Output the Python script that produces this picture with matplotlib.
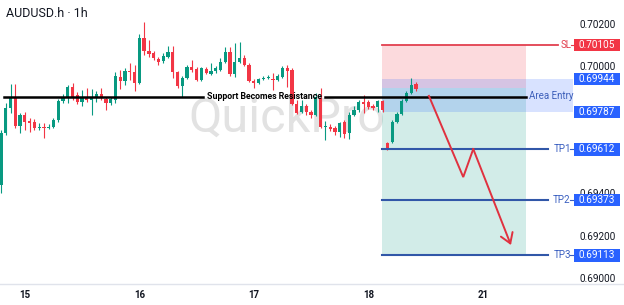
import matplotlib
matplotlib.use("Agg")
import matplotlib.pyplot as plt
from matplotlib.patches import Rectangle

plt.rcParams['font.family'] = ['Roboto', 'DejaVu Sans']

# ---------------- data ----------------
opens = [0.69445, 0.69689, 0.69807, 0.69859, 0.69722, 0.69774, 0.69746, 0.69741, 0.69713, 0.69718,
         0.69713, 0.69718, 0.69751, 0.69840, 0.69859, 0.69906, 0.69868, 0.69835, 0.69859, 0.69845,
         0.69859, 0.69873, 0.69849, 0.69831, 0.69845, 0.69953, 0.69934, 0.69981, 0.69976, 0.69925,
         0.70136, 0.70075, 0.70066, 0.70038, 0.70028, 0.70047, 0.70071, 0.69976, 0.69911, 0.69948,
         0.70000, 0.69991, 0.69939, 0.69991, 0.69967, 0.69981, 0.69986, 0.70024, 0.70071, 0.69967,
         0.70024, 0.70042, 0.70009, 0.69934, 0.69925, 0.69944, 0.69948, 0.69944, 0.69939, 0.69953,
         0.69995, 0.69986, 0.69826, 0.69788, 0.69816, 0.69788, 0.69774, 0.69854, 0.69718, 0.69718,
         0.69713, 0.69694, 0.69741, 0.69689, 0.69774, 0.69798, 0.69835, 0.69835, 0.69816, 0.69812,
         0.69840, 0.69642, 0.69647, 0.69741, 0.69779, 0.69840, 0.69878, 0.69920]
highs = [0.69704, 0.69831, 0.69920, 0.69920, 0.69784, 0.69788, 0.69760, 0.69755, 0.69736, 0.69736,
         0.69731, 0.69760, 0.69849, 0.69873, 0.69915, 0.69925, 0.69882, 0.69892, 0.69901, 0.69896,
         0.69887, 0.69901, 0.69859, 0.69859, 0.69976, 0.69986, 0.69995, 0.70019, 0.70009, 0.70155,
         0.70212, 0.70127, 0.70075, 0.70047, 0.70066, 0.70099, 0.70099, 0.69981, 0.69958, 0.70009,
         0.70033, 0.70000, 0.70000, 0.70000, 0.70019, 0.70005, 0.70042, 0.70094, 0.70094, 0.70113,
         0.70118, 0.70056, 0.70019, 0.69944, 0.69948, 0.69958, 0.69962, 0.69972, 0.69967, 0.70005,
         0.70009, 0.69995, 0.69845, 0.69845, 0.69826, 0.69798, 0.69878, 0.69901, 0.69746, 0.69731,
         0.69722, 0.69741, 0.69751, 0.69788, 0.69816, 0.69845, 0.69868, 0.69845, 0.69826, 0.69845,
         0.69845, 0.69647, 0.69751, 0.69788, 0.69849, 0.69887, 0.69948, 0.69929]
lows = [0.69407, 0.69680, 0.69784, 0.69713, 0.69689, 0.69704, 0.69694, 0.69704, 0.69704, 0.69666,
        0.69708, 0.69713, 0.69741, 0.69831, 0.69831, 0.69845, 0.69826, 0.69816, 0.69835, 0.69774,
        0.69835, 0.69845, 0.69798, 0.69821, 0.69831, 0.69896, 0.69915, 0.69939, 0.69887, 0.69920,
        0.70056, 0.70047, 0.70033, 0.70009, 0.70019, 0.70042, 0.69948, 0.69901, 0.69859, 0.69944,
        0.69976, 0.69934, 0.69934, 0.69967, 0.69962, 0.69972, 0.69981, 0.70019, 0.69958, 0.69953,
        0.70019, 0.70005, 0.69929, 0.69901, 0.69920, 0.69939, 0.69944, 0.69892, 0.69934, 0.69948,
        0.69906, 0.69821, 0.69779, 0.69784, 0.69774, 0.69760, 0.69770, 0.69713, 0.69656, 0.69699,
        0.69680, 0.69671, 0.69666, 0.69661, 0.69770, 0.69788, 0.69784, 0.69803, 0.69798, 0.69788,
        0.69788, 0.69609, 0.69642, 0.69736, 0.69774, 0.69835, 0.69873, 0.69887]
closes = [0.69689, 0.69807, 0.69859, 0.69722, 0.69774, 0.69741, 0.69736, 0.69713, 0.69718, 0.69713,
          0.69718, 0.69751, 0.69840, 0.69859, 0.69906, 0.69859, 0.69835, 0.69854, 0.69845, 0.69859,
          0.69873, 0.69854, 0.69831, 0.69849, 0.69958, 0.69934, 0.69981, 0.69976, 0.69925, 0.70136,
          0.70075, 0.70061, 0.70042, 0.70024, 0.70052, 0.70071, 0.69976, 0.69911, 0.69948, 0.70000,
          0.69986, 0.69939, 0.69995, 0.69972, 0.69981, 0.69995, 0.70024, 0.70071, 0.69967, 0.70024,
          0.70042, 0.70009, 0.69934, 0.69925, 0.69944, 0.69948, 0.69953, 0.69939, 0.69958, 0.69995,
          0.69981, 0.69826, 0.69784, 0.69816, 0.69788, 0.69774, 0.69859, 0.69718, 0.69722, 0.69708,
          0.69694, 0.69736, 0.69685, 0.69774, 0.69798, 0.69835, 0.69826, 0.69812, 0.69807, 0.69840,
          0.69798, 0.69619, 0.69741, 0.69779, 0.69840, 0.69878, 0.69915, 0.69896]

day_ticks = [5, 29, 53, 77, 101]
day_labels = ["15", "16", "17", "18", "21"]

price_ticks = [0.69000, 0.69200, 0.69400, 0.70000, 0.70200]
price_tick_labels = ["0.69000", "0.69200", "0.69400", "0.70000", "0.70200"]

support_level = 0.69861
entry_level = 0.69901
sl_level = 0.70105
area_top = 0.69944
area_bottom = 0.69787
tp_levels = [0.69612, 0.69373, 0.69113]
tp_names = ["TP1", "TP2", "TP3"]

arrow_x = [89.7, 96.9, 99.0, 106.9]
arrow_y = [0.69864, 0.69482, 0.69614, 0.69162]

# ---------------- styles / positions ----------------
GREEN = '#089981'
RED = '#f23645'
BLUE_BOX = '#2962ff'
TP_LINE = '#3157a8'
SL_LINE = '#e2404f'
TXT = '#131722'

x_left, x_right = -0.21, 130.6
y_bottom, y_top = 0.689788, 0.703153
trade_x0, trade_x1 = 79.9, 110.1
band_x1 = 119.9
box_x0, box_x1 = 120.1, 129.8
box_half = 0.000285

fig = plt.figure(figsize=(6.24, 3.05), dpi=100)
ax = fig.add_axes([0, 21 / 305, 1, 284 / 305])
ax.set_xlim(x_left, x_right)
ax.set_ylim(y_bottom, y_top)

# candles
n = len(opens)
xs = list(range(n))
cols = [GREEN if c >= o else RED for o, c in zip(opens, closes)]
ax.vlines(xs, lows, highs, colors=cols, linewidth=0.8, zorder=3)
bottoms = [min(o, c) for o, c in zip(opens, closes)]
heights = [max(abs(c - o), 0.00002) for o, c in zip(opens, closes)]
ax.bar(xs, heights, bottom=bottoms, width=0.68, color=cols, linewidth=0, zorder=4)

# watermark
ax.text(60.0, 0.69694, "QuickPro", fontsize=35, color='#e2e2e2', ha='center', va='baseline',
        zorder=1)

# trade zones
ax.fill_between([trade_x0, trade_x1], entry_level, sl_level, color=RED, alpha=0.18,
                linewidth=0, zorder=2)
ax.fill_between([trade_x0, trade_x1], tp_levels[-1], entry_level, color=GREEN, alpha=0.18,
                linewidth=0, zorder=2)
ax.fill_between([trade_x0, band_x1], area_bottom, area_top, color=BLUE_BOX, alpha=0.18,
                linewidth=0, zorder=2)
ax.text(115.3, (area_top + area_bottom) / 2, "Area Entry", fontsize=7, color='#3d5fba',
        ha='center', va='center', zorder=6)

# support line with label
ax.plot([0.6, 42.3], [support_level] * 2, color='black', lw=1.8, zorder=5)
ax.plot([67.9, trade_x1], [support_level] * 2, color='black', lw=1.8, zorder=5)
ax.text(55.3, support_level, "Support Becomes Resistance", fontsize=6.3, fontweight='bold',
        color='black', ha='center', va='center', zorder=6)

# SL / TP lines
ax.plot([trade_x0, 116.8], [sl_level] * 2, color=SL_LINE, lw=1.3, zorder=5)
ax.text(118.4, sl_level, "SL", fontsize=7, color=SL_LINE, ha='center', va='center', zorder=6)
ax.plot([119.5, box_x0], [sl_level] * 2, color=SL_LINE, lw=0.8, zorder=5)
for lvl, name in zip(tp_levels, tp_names):
    ax.plot([trade_x0, 114.7], [lvl] * 2, color=TP_LINE, lw=1.5, zorder=5)
    ax.text(117.6, lvl, name, fontsize=7, color='#3a5fc0', ha='center', va='center', zorder=6)
    ax.plot([119.3, box_x0], [lvl] * 2, color='#3a5fc0', lw=0.8, zorder=5)

# arrow
ax.plot(arrow_x[:3], arrow_y[:3], color='#e0313f', lw=1.4, zorder=7, solid_joinstyle='miter')
ax.annotate("", xy=(arrow_x[3], arrow_y[3]), xytext=(arrow_x[2], arrow_y[2]),
            arrowprops=dict(arrowstyle='->,head_length=0.7,head_width=0.45', color='#e0313f',
                            lw=1.4, shrinkA=0, shrinkB=0), zorder=7)

# price axis labels
for p, lab in zip(price_ticks, price_tick_labels):
    ax.text(128.9, p, lab, fontsize=7.2, color=TXT, ha='right', va='center', zorder=6)

def price_box(level, color):
    ax.add_patch(Rectangle((box_x0, level - box_half), box_x1 - box_x0, 2 * box_half,
                           facecolor=color, edgecolor='none', zorder=8))
    ax.text((box_x0 + box_x1) / 2, level, f"{level:.5f}", fontsize=7.2, color='white',
            ha='center', va='center', zorder=9)

price_box(sl_level, RED)
price_box(area_top, BLUE_BOX)
price_box(area_bottom, BLUE_BOX)
for lvl in tp_levels:
    price_box(lvl, BLUE_BOX)

# title
ax.text(1.0, 0.70000 + 50 / 21250, "AUDUSD.h · 1h", fontsize=9, color=TXT, ha='left',
        va='baseline', zorder=6)

# axes styling
for s in ['top', 'left', 'right']:
    ax.spines[s].set_visible(False)
ax.spines['bottom'].set_color('#e0e3eb')
ax.spines['bottom'].set_linewidth(1.0)
ax.set_yticks([])
ax.set_xticks(day_ticks)
ax.set_xticklabels(day_labels, fontsize=7, fontweight='bold', color=TXT)
ax.tick_params(axis='x', length=0, pad=4)

fig.savefig("out.png", dpi=100)
